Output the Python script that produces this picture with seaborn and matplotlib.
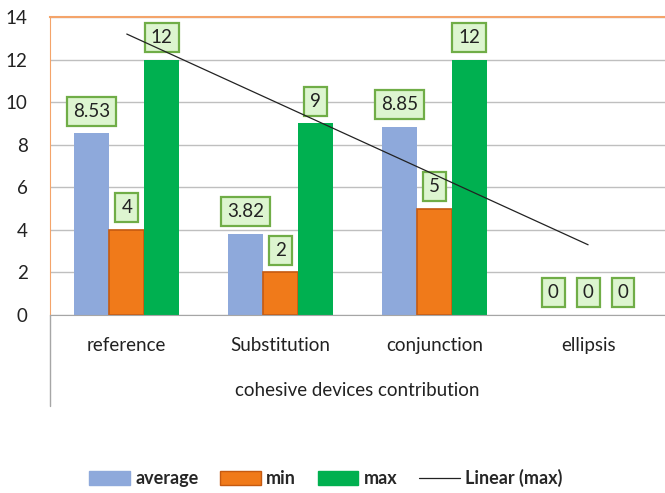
import seaborn as sns
import matplotlib.pyplot as plt
import matplotlib.lines as mlines
import matplotlib.patches as mpatches
import numpy as np
import pandas as pd

categories = ["reference", "Substitution", "conjunction", "ellipsis"]
average = [8.53, 3.82, 8.85, 0]
minimum = [4, 2, 5, 0]
maximum = [12, 9, 12, 0]
series = ["average", "min", "max"]
colors = {"average": "#8EA9DB", "min": "#F07A1A", "max": "#00B050"}

df = pd.DataFrame({
    "category": categories * 3,
    "series": ["average"] * 4 + ["min"] * 4 + ["max"] * 4,
    "value": average + minimum + maximum,
})

sns.set_style("white")
plt.rcParams["font.family"] = ["Lato", "DejaVu Sans"]

fig = plt.figure(figsize=(6.65, 4.93), dpi=100)
ax = fig.add_axes([0.075, 0.361, 0.925, 0.6045])

sns.barplot(data=df, x="category", y="value", hue="series", hue_order=series,
            palette=colors, width=0.68, ax=ax, legend=False, saturation=1,
            order=categories, linewidth=0)

# min bars get a darker edge, like the bevel in the original
for bar in ax.containers[1]:
    if bar.get_height() > 0:
        bar.set_edgecolor("#C55A11")
        bar.set_linewidth(1.2)

# value labels in green boxes
for cont in ax.containers:
    for bar in cont:
        h = bar.get_height()
        txt = "%g" % h
        ax.annotate(txt, (bar.get_x() + bar.get_width() / 2, h),
                    xytext=(0, 16), textcoords="offset points",
                    ha="center", va="center", fontsize=13.5, color="#222222",
                    bbox=dict(boxstyle="square,pad=0.32", fc="#DDF5D0",
                              ec="#70AD47", lw=1.6), zorder=4)

# linear trendline of max
xs = np.arange(len(categories))
k, b = np.polyfit(xs, maximum, 1)
ax.plot(xs, k * xs + b, color="#222222", lw=0.9, zorder=5)

ax.set_ylim(0, 14)
ax.set_yticks(range(0, 15, 2))
ax.set_xlim(-0.5, 3.5)
ax.yaxis.grid(True, color="#BFBFBF", lw=1)
ax.set_axisbelow(True)
ax.tick_params(axis="y", length=0, pad=16, labelsize=13.5)
ax.tick_params(axis="x", length=0, pad=16, labelsize=13.5)
ax.set_ylabel("")
ax.set_xlabel("cohesive devices contribution", fontsize=13.5, labelpad=20,
              color="#222222")
for lab in ax.get_xticklabels() + ax.get_yticklabels():
    lab.set_color("#222222")

ax.spines["right"].set_visible(False)
ax.spines["top"].set_color("#F4A46A")
ax.spines["top"].set_linewidth(1.5)
ax.spines["left"].set_color("#F4A46A")
ax.spines["bottom"].set_color("#A6A6A6")

# category axis frame continues below the plot area
fig.add_artist(mlines.Line2D([0.075, 0.075], [0.361, 0.177],
                             color="#A6A6A6", lw=1))

handles = [
    mpatches.Patch(color=colors["average"], label="average"),
    mpatches.Patch(fc=colors["min"], ec="#C55A11", label="min"),
    mpatches.Patch(color=colors["max"], label="max"),
    mlines.Line2D([], [], color="#222222", lw=0.9, label="Linear (max)"),
]
fig.legend(handles=handles, loc="center", bbox_to_anchor=(0.49, 0.03),
           ncol=4, frameon=False, prop={"size": 13, "weight": "bold"},
           handlelength=2.25, handleheight=0.8, columnspacing=1.2,
           handletextpad=0.3)

fig.savefig("out.png", dpi=100)
